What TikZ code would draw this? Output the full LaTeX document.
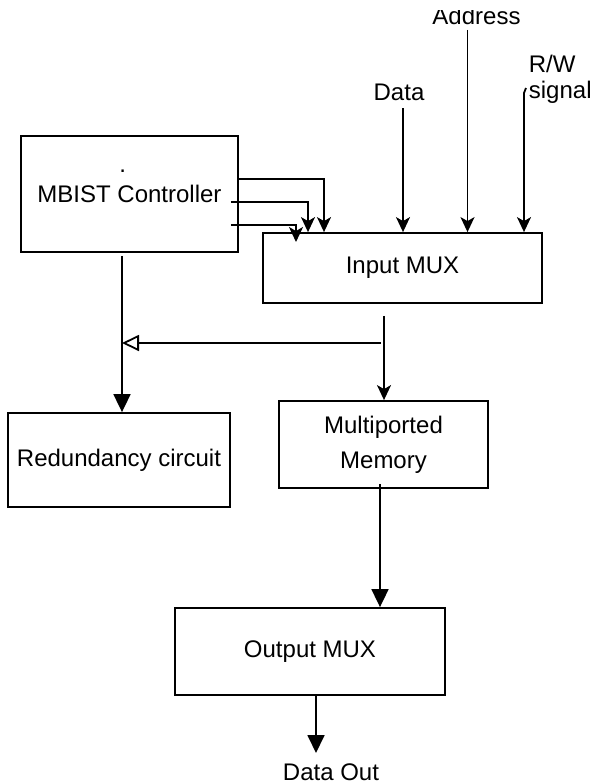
\documentclass[tikz,border=0pt]{standalone}
\usepackage{fontspec}
\setmainfont{Liberation Sans}
\usetikzlibrary{arrows.meta}

\begin{document}
\begin{tikzpicture}[x=1pt,y=-1pt,line width=1.8pt,font=\fontsize{24}{26}\selectfont,
  box/.style={draw,inner sep=0pt,align=center},
  lbl/.style={inner sep=0pt},
  sarr/.style={-{Stealth[length=15pt,width=14pt,inset=4pt]}},
  barr/.style={-{Triangle[length=18pt,width=17pt]}},
  oarr/.style={-{Triangle[open,length=17pt,width=16pt]}}]
\useasboundingbox (0,0) rectangle (594,784);
% blocks
\node[box,minimum width=217pt,minimum height=116pt] (mbist) at (129.5,194) {MBIST Controller};
\node[lbl,anchor=base] (dot) at (122.7,172) {.};
\node[box,minimum width=279pt,minimum height=70pt] (inmux) at (402.5,268) {Input MUX};
\node[box,minimum width=222pt,minimum height=94pt] (redund) at (119,460) {Redundancy circuit};
\node[box,minimum width=209pt,minimum height=87pt] (mem) at (383.5,444.5) {Multiported\\[9pt]Memory};
\node[box,minimum width=270pt,minimum height=87pt] (outmux) at (310,651.5) {Output MUX};
% labels
\node[lbl,anchor=base] (data) at (399,100) {Data};
\begin{scope}
\clip (0,11) rectangle (594,784);
\node[lbl,anchor=base] (addr) at (476.5,25) {Address};
\end{scope}
\node[lbl,anchor=north west,align=left] (rw) at (528,54.5) {R/W\\signal};
\node[lbl,anchor=base] (dout) at (331,780) {Data Out};
% columns and free ends
\coordinate (dtop) at (403,108);
\coordinate (atop) at (467.5,30);
\coordinate (rtop) at (526,88);
\coordinate (colA) at (122,0);
\coordinate (colB) at (384,0);
\coordinate (colC) at (380,0);
\coordinate (colD) at (316,0);
\coordinate (fb) at (381,343);
\coordinate (mtip) at (296,242);
\coordinate (dtip) at (316,753);
% controller to input mux
\draw[sarr] (mbist.east |- 0,179) -- (324,179) -- (324,0 |- inmux.north);
\draw[sarr] ([xshift=-8pt]mbist.east |- 0,202) -- (308,202) -- (308,0 |- inmux.north);
\draw[sarr] ([xshift=-8pt]mbist.east |- 0,225) -| (mtip);
% inputs
\draw[sarr] (dtop) -- (dtop |- inmux.north);
\draw[sarr] (atop) -- (atop |- inmux.north);
\draw[sarr] (rtop) -- (524,93) -- (524,0 |- inmux.north);
% data path
\draw[barr,shorten <=3pt] (colA |- mbist.south) -- (colA |- redund.north);
\draw[sarr,shorten <=12pt] (colB |- inmux.south) -- (colB |- mem.north);
\draw[oarr] (fb) -- (colA |- fb);
\draw[barr,shorten <=-5pt] (colC |- mem.south) -- (colC |- outmux.north);
\draw[barr] (colD |- outmux.south) -- (dtip);
\end{tikzpicture}
\end{document}
